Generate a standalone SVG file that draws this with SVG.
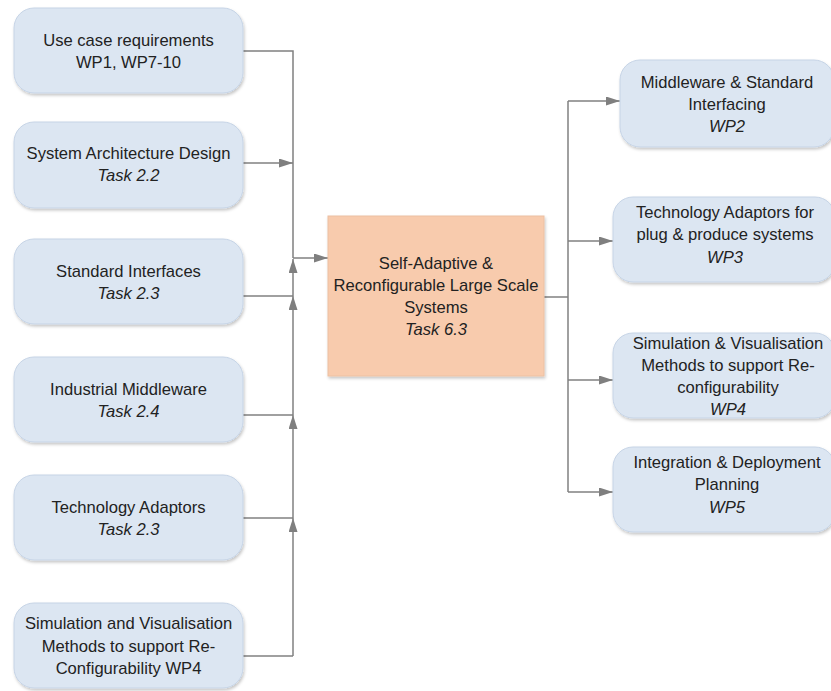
<svg xmlns="http://www.w3.org/2000/svg" width="831" height="691" viewBox="0 0 831 691">
  <defs>
    <filter id="shadow" x="-10%" y="-10%" width="125%" height="130%">
      <feDropShadow dx="1" dy="2" stdDeviation="1.5" flood-color="#000" flood-opacity="0.22"/>
    </filter>
    <marker id="arrow" viewBox="0 0 14 9" refX="14" refY="4.5" markerWidth="14" markerHeight="9" markerUnits="userSpaceOnUse" orient="auto">
      <path d="M0,0 L14,4.5 L0,9 Z" fill="#7f7f7f"/>
    </marker>
    <style>
      .box { fill: #dce6f2; stroke: #c6d4e6; stroke-width: 1; filter: url(#shadow); }
      .core { fill: #f8cbad; stroke: #ecc0a2; stroke-width: 1; filter: url(#shadow); }
      text { font-family: "Liberation Sans", Arial, sans-serif; font-size: 16.6px; fill: #222222; text-anchor: middle; }
      .it { font-style: italic; }
      .wire { fill: none; stroke: #808080; stroke-width: 1.5; }
      .arr { fill: none; stroke: #808080; stroke-width: 1.5; marker-end: url(#arrow); }
    </style>
  </defs>

  <rect width="831" height="691" fill="#ffffff"/>

  <!-- connectors -->
  <g id="connectors">
    <!-- inputs merging into the left bus -->
    <polyline class="wire" points="243,51 293,51 293,258"/>
    <line class="arr" x1="243" y1="163" x2="293" y2="163"/>
    <polyline class="wire" points="243,296 293,296"/>
    <line class="arr" x1="293" y1="296" x2="293" y2="259"/>
    <polyline class="wire" points="243,415 293,415"/>
    <line class="arr" x1="293" y1="415" x2="293" y2="296"/>
    <polyline class="wire" points="243,518 293,518"/>
    <line class="arr" x1="293" y1="518" x2="293" y2="415"/>
    <polyline class="wire" points="243,656 293,656"/>
    <line class="arr" x1="293" y1="656" x2="293" y2="518"/>
    <line class="arr" x1="293" y1="258" x2="328" y2="258"/>
    <!-- outputs fanning out from the core -->
    <polyline class="wire" points="544,297 568,297"/>
    <line class="wire" x1="568" y1="101" x2="568" y2="492"/>
    <line class="arr" x1="568" y1="101" x2="620" y2="101"/>
    <line class="arr" x1="568" y1="241" x2="613" y2="241"/>
    <line class="arr" x1="568" y1="380" x2="613" y2="380"/>
    <line class="arr" x1="568" y1="492" x2="613" y2="492"/>
  </g>

  <!-- left column -->
  <g id="use-case">
    <rect class="box" x="14" y="8" width="229" height="85" rx="20"/>
    <text x="128.5" y="46">Use case requirements</text>
    <text x="128.5" y="68">WP1, WP7-10</text>
  </g>
  <g id="sys-arch">
    <rect class="box" x="14" y="122" width="229" height="86" rx="20"/>
    <text x="128.5" y="159">System Architecture Design</text>
    <text x="128.5" y="181" class="it">Task 2.2</text>
  </g>
  <g id="std-if">
    <rect class="box" x="14" y="239" width="229" height="85" rx="20"/>
    <text x="128.5" y="277">Standard Interfaces</text>
    <text x="128.5" y="299" class="it">Task 2.3</text>
  </g>
  <g id="ind-mw">
    <rect class="box" x="14" y="357" width="229" height="85" rx="20"/>
    <text x="128.5" y="395">Industrial Middleware</text>
    <text x="128.5" y="417" class="it">Task 2.4</text>
  </g>
  <g id="tech-adapt">
    <rect class="box" x="14" y="475" width="229" height="85" rx="20"/>
    <text x="128.5" y="513">Technology Adaptors</text>
    <text x="128.5" y="535" class="it">Task 2.3</text>
  </g>
  <g id="sim-vis">
    <rect class="box" x="14" y="603" width="229" height="85" rx="20"/>
    <text x="128.5" y="629">Simulation and Visualisation</text>
    <text x="128.5" y="652">Methods to support Re-</text>
    <text x="128.5" y="674">Configurability WP4</text>
  </g>

  <!-- core -->
  <g id="core">
    <rect class="core" x="328" y="216" width="216" height="160"/>
    <text x="436" y="269">Self-Adaptive &amp;</text>
    <text x="436" y="291">Reconfigurable Large Scale</text>
    <text x="436" y="313">Systems</text>
    <text x="436" y="335" class="it">Task 6.3</text>
  </g>

  <!-- right column -->
  <g id="wp2">
    <rect class="box" x="620" y="60" width="214" height="87" rx="20"/>
    <text x="727" y="88">Middleware &amp; Standard</text>
    <text x="727" y="110">Interfacing</text>
    <text x="727" y="132" class="it">WP2</text>
  </g>
  <g id="wp3">
    <rect class="box" x="613" y="197" width="222" height="85" rx="20"/>
    <text x="725" y="218">Technology Adaptors for</text>
    <text x="725" y="240">plug &amp; produce systems</text>
    <text x="725" y="263" class="it">WP3</text>
  </g>
  <g id="wp4">
    <rect class="box" x="613" y="333" width="222" height="85" rx="20"/>
    <text x="728" y="349">Simulation &amp; Visualisation</text>
    <text x="728" y="371">Methods to support Re-</text>
    <text x="728" y="393">configurability</text>
    <text x="728" y="415" class="it">WP4</text>
  </g>
  <g id="wp5">
    <rect class="box" x="613" y="447" width="222" height="85" rx="20"/>
    <text x="727" y="468">Integration &amp; Deployment</text>
    <text x="727" y="490">Planning</text>
    <text x="727" y="513" class="it">WP5</text>
  </g>
</svg>
